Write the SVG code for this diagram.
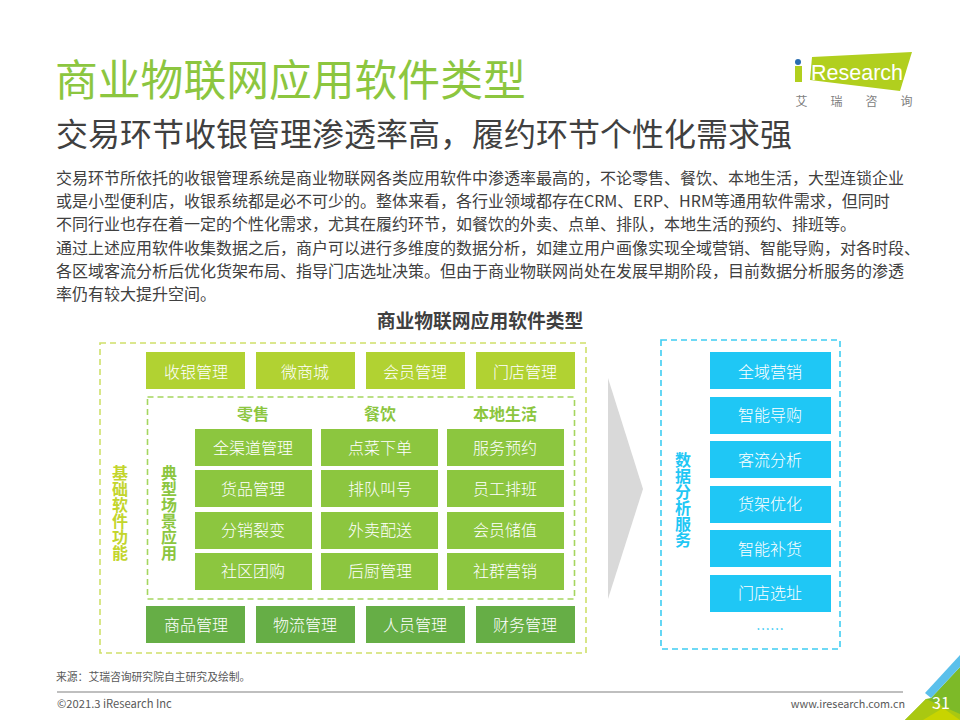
<svg xmlns="http://www.w3.org/2000/svg" width="960" height="720" viewBox="0 0 960 720">
<style>
text{font-family:"Noto Sans CJK SC","Noto Sans",sans-serif}
.b{font-size:16px;fill:#fff;text-anchor:middle;font-weight:300}
.p{font-size:16px;fill:#404040}
.lime{fill:#b1d232}.gr{fill:#8cc63f}.dk{fill:#66ae46}.bl{fill:#1fc7f5}
.h{font-size:16px;font-weight:700;fill:#8cc63f;text-anchor:middle}
.v{font-size:16px;font-weight:700;writing-mode:vertical-rl}
.dash{fill:none;stroke-width:1.6;stroke-dasharray:6 4}
</style>
<rect width="960" height="720" fill="#fff"/>
<text x="55" y="96" font-size="42.800" fill="#8cc63f" font-weight="400">商业物联网应用软件类型</text>
<text x="56" y="146" font-size="32" fill="#404040">交易环节收银管理渗透率高，履约环节个性化需求强</text>
<g id="logo">
<polygon points="812,57 912,52 900,91 810,80" fill="#b1cf1e"/>
<polygon points="795,66 802,66 802,82 795,82" fill="#b1cf1e"/>
<circle cx="798" cy="62" r="3" fill="#2a6db0"/>
<text x="811" y="80" font-size="21.500" fill="#fff" style="font-family:'Liberation Sans',sans-serif">Research</text>
<text x="795.500" y="106" font-size="12" fill="#808080">艾</text>
<text x="830.500" y="106" font-size="12" fill="#808080">瑞</text>
<text x="865.500" y="106" font-size="12" fill="#808080">咨</text>
<text x="900.500" y="106" font-size="12" fill="#808080">询</text>
</g>
<g id="intro">
<text class="p" x="56" y="184">交易环节所依托的收银管理系统是商业物联网各类应用软件中渗透率最高的，不论零售、餐饮、本地生活，大型连锁企业</text>
<text class="p" x="56" y="207">或是小型便利店，收银系统都是必不可少的。整体来看，各行业领域都存在CRM、ERP、HRM等通用软件需求，但同时</text>
<text class="p" x="56" y="230">不同行业也存在着一定的个性化需求，尤其在履约环节，如餐饮的外卖、点单、排队，本地生活的预约、排班等。</text>
<text class="p" x="56" y="254">通过上述应用软件收集数据之后，商户可以进行多维度的数据分析，如建立用户画像实现全域营销、智能导购，对各时段、</text>
<text class="p" x="56" y="277">各区域客流分析后优化货架布局、指导门店选址决策。但由于商业物联网尚处在发展早期阶段，目前数据分析服务的渗透</text>
<text class="p" x="56" y="300">率仍有较大提升空间。</text>
</g>
<text x="480" y="328" font-size="18.800" font-weight="700" fill="#404040" text-anchor="middle">商业物联网应用软件类型</text>
<g id="frames">
<rect class="dash" x="100" y="343" width="486" height="310" stroke="#cfe06a"/>
<rect class="dash" x="147.500" y="397" width="427" height="202" stroke="#a5d65f"/>
<rect class="dash" x="661" y="340" width="179" height="309" stroke="#3fcdf2"/>
</g>
<g id="arrow"><polygon points="608,378 643,489 608,599" fill="#d9d9d9"/></g>
<g id="top-row">
<rect class="lime" x="146" y="352" width="99" height="37"/><text class="b" x="196" y="377.500">收银管理</text>
<rect class="lime" x="256" y="352" width="99" height="37"/><text class="b" x="305" y="377.500">微商城</text>
<rect class="lime" x="366" y="352" width="99" height="37"/><text class="b" x="415" y="377.500">会员管理</text>
<rect class="lime" x="476" y="352" width="99" height="37"/><text class="b" x="525" y="377.500">门店管理</text>
</g>
<g id="headers">
<text class="h" x="253" y="420">零售</text><text class="h" x="380" y="420">餐饮</text><text class="h" x="505" y="420">本地生活</text>
</g>
<g id="scenes">
<rect class="gr" x="195" y="429" width="117" height="37"/><text class="b" x="253" y="453.500">全渠道管理</text>
<rect class="gr" x="321" y="429" width="117" height="37"/><text class="b" x="380" y="453.500">点菜下单</text>
<rect class="gr" x="447" y="429" width="117" height="37"/><text class="b" x="505" y="453.500">服务预约</text>
<rect class="gr" x="195" y="470" width="117" height="37"/><text class="b" x="253" y="495">货品管理</text>
<rect class="gr" x="321" y="470" width="117" height="37"/><text class="b" x="380" y="495">排队叫号</text>
<rect class="gr" x="447" y="470" width="117" height="37"/><text class="b" x="505" y="495">员工排班</text>
<rect class="gr" x="195" y="512" width="117" height="37"/><text class="b" x="253" y="536">分销裂变</text>
<rect class="gr" x="321" y="512" width="117" height="37"/><text class="b" x="380" y="536">外卖配送</text>
<rect class="gr" x="447" y="512" width="117" height="37"/><text class="b" x="505" y="536">会员储值</text>
<rect class="gr" x="195" y="553" width="117" height="37"/><text class="b" x="253" y="577">社区团购</text>
<rect class="gr" x="321" y="553" width="117" height="37"/><text class="b" x="380" y="577">后厨管理</text>
<rect class="gr" x="447" y="553" width="117" height="37"/><text class="b" x="505" y="577">社群营销</text>
</g>
<g id="bottom-row">
<rect class="dk" x="146" y="606" width="99" height="37"/><text class="b" x="196" y="630.500">商品管理</text>
<rect class="dk" x="256" y="606" width="99" height="37"/><text class="b" x="305" y="630.500">物流管理</text>
<rect class="dk" x="366" y="606" width="99" height="37"/><text class="b" x="415" y="630.500">人员管理</text>
<rect class="dk" x="476" y="606" width="99" height="37"/><text class="b" x="525" y="630.500">财务管理</text>
</g>
<g id="labels">
<text class="v" x="120" y="465" fill="#c3d52c">基础软件功能</text>
<text class="v" x="169" y="465" fill="#8cc63f">典型场景应用</text>
<text class="v" x="683" y="452" fill="#1fc7f5">数据分析服务</text>
</g>
<g id="data">
<rect class="bl" x="710" y="352" width="121" height="37"/><text class="b" x="770" y="377.500">全域营销</text>
<rect class="bl" x="710" y="397" width="121" height="37"/><text class="b" x="770" y="421">智能导购</text>
<rect class="bl" x="710" y="441" width="121" height="37"/><text class="b" x="770" y="466">客流分析</text>
<rect class="bl" x="710" y="486" width="121" height="37"/><text class="b" x="770" y="510">货架优化</text>
<rect class="bl" x="710" y="530" width="121" height="37"/><text class="b" x="770" y="555">智能补货</text>
<rect class="bl" x="710" y="575" width="121" height="37"/><text class="b" x="770" y="599">门店选址</text>
<text x="770" y="634" font-size="14" fill="#1fc7f5" text-anchor="middle">……</text>
</g>
<g id="footer">
<text x="56" y="681" font-size="10.800" fill="#595959">来源：艾瑞咨询研究院自主研究及绘制。</text>
<rect x="57" y="691" width="846" height="2" fill="#bfbfbf"/>
<text x="57" y="708" font-size="11.200" fill="#595959">©2021.3 iResearch Inc</text>
<text x="905" y="708" font-size="10.800" fill="#595959" text-anchor="end">www.iresearch.com.cn</text>
<polygon points="931,698 960,667 960,720 905,720 926,699" fill="#7dba28"/>
<polygon points="925,693 960,655 960,667 931,698" fill="#5bc0eb"/>
<polygon points="905,720 926,699 960,714 960,720" fill="#a9c811"/>
<polygon points="923,720 943,708 960,720" fill="#c8d400"/>
<text x="941" y="709" font-size="16" fill="#fff" text-anchor="middle">31</text>
</g>
</svg>
